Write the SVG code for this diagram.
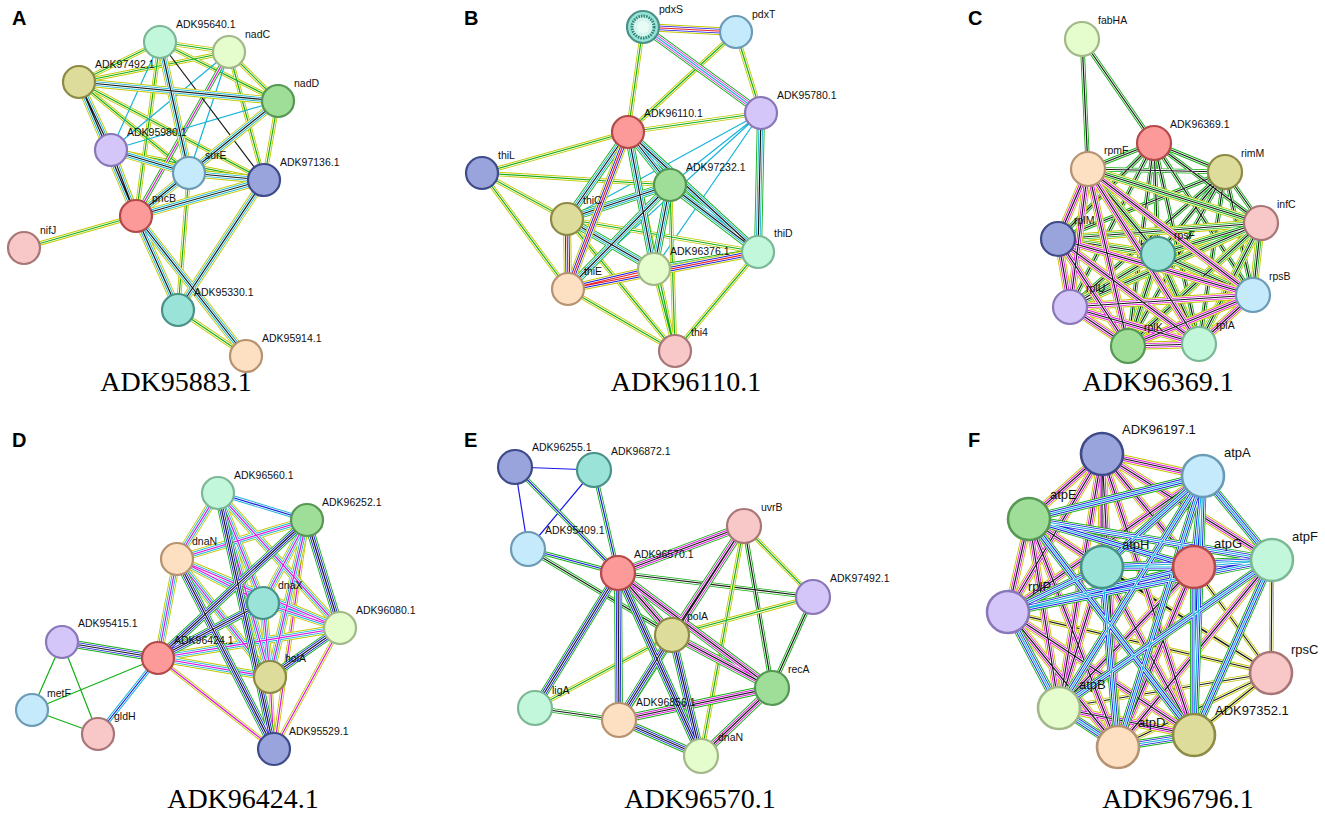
<svg xmlns="http://www.w3.org/2000/svg" xmlns:xlink="http://www.w3.org/1999/xlink" width="1325" height="821" viewBox="0 0 1325 821">
<style>
.t{font-family:"Liberation Sans",Arial,sans-serif;font-size:10.5px;fill:#111}
.tf{font-size:13px}
.ttl{font-family:"Liberation Serif","Times New Roman",serif;font-size:28px;text-anchor:middle;fill:#000}
.pl{font-family:"Liberation Sans",Arial,sans-serif;font-size:20px;font-weight:bold;fill:#000}
circle.n{stroke-width:2.2}
.big circle.n{stroke-width:2.6}
.red{fill:#fc9999;stroke:#b34a4a}
.mint{fill:#c3f7dc;stroke:#7bb896}
.yel{fill:#e5fccc;stroke:#a2b889}
.khk{fill:#dedc9b;stroke:#8c8a45}
.grn{fill:#9ede98;stroke:#569853}
.lav{fill:#d5c6f9;stroke:#8a77b8}
.lbl{fill:#c5eafc;stroke:#6b9bb5}
.slt{fill:#99a4dd;stroke:#3f4a88}
.pnk{fill:#f8c7c7;stroke:#a87676}
.tea{fill:#9ae3d8;stroke:#4a9288}
.pch{fill:#fddfc2;stroke:#b69270}
use{fill:none}
.y{stroke:#c3c800}.g{stroke:#15b015}.c{stroke:#18b4d8}.k{stroke:#1a1a1a}.m{stroke:#e012e0}.b{stroke:#1818e8}.r{stroke:#ee2020}.w{stroke:#fff}.p{stroke:#a8a8ff}
.L1{stroke-width:8}.L2{stroke-width:6.2}.L3{stroke-width:4.6}.L4{stroke-width:2.8}.L5{stroke-width:1.2}
</style>
<defs>
<path id="aH" d="M79 82L136 216M111 150L136 216M189 173L136 216M278 101L189 173M278 101L136 216M189 173L264 180M264 180L178 310M136 216L178 310M136 216L246 356M264 180L136 216M79 82L278 101M160 42L189 173M111 150L189 173M79 82L111 150"/>
<path id="aM" d="M79 82L160 42M79 82L229 52M160 42L229 52M160 42L278 101M229 52L278 101M278 101L264 180M111 150L264 180M79 82L189 173M79 82L264 180M160 42L136 216M111 150L178 310M178 310L246 356M136 216L24 248M189 173L178 310M229 52L264 180"/>
<path id="aM2" d="M229 52L136 216"/>
<path id="aL" d="M160 42L111 150M229 52L111 150M278 101L111 150M229 52L189 173"/>
<path id="aK" d="M160 42L264 180"/>
<path id="bH1" d="M628 132L670 185M628 132L567 219M628 132L654 269M628 132L758 252M567 219L670 185M670 185L654 269M670 185L758 252M654 269L758 252M761 113L758 252M567 219L654 269M670 185L568 289"/>
<path id="bH2" d="M643 27L736 32M567 219L568 289M568 289L654 269M628 132L568 289M568 289L758 252"/>
<path id="bH3" d="M643 27L761 113"/>
<path id="bM" d="M643 27L628 132M736 32L628 132M736 32L761 113M628 132L761 113M628 132L482 173M482 173L567 219M482 173L568 289M482 173L670 185M567 219L758 252M567 219L675 351M568 289L675 351M654 269L675 351M758 252L675 351M628 132L675 351M670 185L675 351"/>
<path id="bL" d="M761 113L670 185M761 113L567 219M761 113L654 269M761 113L568 289"/>
<path id="cH" d="M1088 169L1058 239M1088 169L1253 295M1088 169L1070 307M1088 169L1128 346M1088 169L1199 344M1058 239L1253 295M1058 239L1070 307M1058 239L1128 346M1058 239L1199 344M1253 295L1070 307M1253 295L1128 346M1253 295L1199 344M1070 307L1128 346M1070 307L1199 344M1128 346L1199 344"/>
<path id="cH2" d="M1088 169L1158 254M1088 169L1261 223M1058 239L1158 254M1058 239L1261 223M1158 254L1253 295M1158 254L1070 307M1158 254L1128 346M1158 254L1199 344M1158 254L1261 223M1253 295L1261 223M1070 307L1261 223M1128 346L1261 223M1199 344L1261 223"/>
<path id="cM" d="M1154 143L1088 169M1154 143L1225 172M1154 143L1261 223M1154 143L1058 239M1154 143L1158 254M1154 143L1253 295M1154 143L1070 307M1154 143L1128 346M1154 143L1199 344M1225 172L1088 169M1225 172L1261 223M1225 172L1058 239M1225 172L1158 254M1225 172L1253 295M1225 172L1070 307M1225 172L1128 346M1225 172L1199 344M1082 39L1088 169M1082 39L1154 143"/>
<path id="dH1" d="M218 493L177 559M218 493L263 603M218 493L270 677M307 520L177 559M307 520L263 603M307 520L270 677M177 559L263 603M177 559L340 628M177 559L270 677M177 559L158 658M263 603L340 628M263 603L270 677M340 628L158 658M270 677L158 658M218 493L340 628"/>
<path id="dH2" d="M158 658L62 642M307 520L158 658M218 493L274 749M177 559L274 749M340 628L270 677M307 520L340 628M263 603L158 658"/>
<path id="dM" d="M158 658L274 749M270 677L274 749M307 520L274 749M340 628L274 749"/>
<path id="dM2" d="M218 493L307 520M158 658L98 734"/>
<path id="dL" d="M158 658L32 710M62 642L32 710M62 642L98 734M32 710L98 734"/>
<path id="eL" d="M515 467L594 470M515 467L528 549M594 470L528 549"/>
<path id="eM" d="M515 467L618 573M594 470L618 573M528 549L618 573"/>
<path id="eM2" d="M528 549L672 635M618 573L813 597M744 526L772 688M813 597L772 688M535 708L619 720"/>
<path id="eM3" d="M813 597L672 635M744 526L813 597M672 635L535 708M744 526L701 756"/>
<path id="eH1" d="M618 573L744 526M618 573L672 635M618 573L772 688M672 635L772 688M772 688L619 720M772 688L701 756M744 526L672 635M744 526L619 720"/>
<path id="eH2" d="M618 573L535 708M618 573L619 720M618 573L701 756M672 635L619 720M672 635L701 756M619 720L701 756"/>
<path id="fH1" d="M1102 454L1203 476M1102 454L1029 519M1102 454L1272 560M1102 454L1102 567M1102 454L1194 567M1102 454L1008 612M1102 454L1059 708M1102 454L1194 735M1102 454L1118 747M1029 519L1102 567M1029 519L1008 612M1029 519L1059 708M1029 519L1118 747M1102 567L1059 708M1102 567L1194 735M1194 567L1059 708M1194 567L1118 747M1008 612L1118 747M1008 612L1194 735M1059 708L1194 735M1272 560L1118 747M1203 476L1008 612"/>
<path id="fH2" d="M1203 476L1029 519M1203 476L1272 560M1203 476L1102 567M1203 476L1194 567M1203 476L1059 708M1203 476L1194 735M1203 476L1118 747M1029 519L1272 560M1029 519L1194 567M1029 519L1194 735M1272 560L1102 567M1272 560L1194 567M1272 560L1008 612M1272 560L1059 708M1272 560L1194 735M1102 567L1194 567M1102 567L1008 612M1102 567L1118 747M1194 567L1008 612M1194 567L1194 735M1008 612L1059 708M1059 708L1118 747M1118 747L1194 735"/>
<path id="fM" d="M1271 673L1272 560M1271 673L1194 567M1271 673L1102 567M1271 673L1029 519M1271 673L1008 612M1271 673L1194 735M1271 673L1059 708M1271 673L1118 747"/>
</defs>
<rect width="1325" height="821" fill="#fff"/>
<g id="connectors">
<g id="conA">
<use href="#aM" class="y L3"/><use href="#aM" class="w L4"/><use href="#aM" class="g L5"/>
<use href="#aM2" class="g L3"/><use href="#aM2" class="w L4"/><use href="#aM2" class="m L5"/>
<use href="#aL" class="c L5"/><use href="#aK" class="k L5"/>
<use href="#aH" class="y L1"/><use href="#aH" class="w L2"/><use href="#aH" class="c L3"/><use href="#aH" class="w L4"/><use href="#aH" class="k L5"/>
</g>
<g id="conB">
<use href="#bL" class="c L5"/>
<use href="#bM" class="y L3"/><use href="#bM" class="w L4"/><use href="#bM" class="g L5"/>
<use href="#bH1" class="g L1"/><use href="#bH1" class="w L2"/><use href="#bH1" class="c L3"/><use href="#bH1" class="w L4"/><use href="#bH1" class="k L5"/>
<use href="#bH2" class="y L1"/><use href="#bH2" class="w L2"/><use href="#bH2" class="b L3"/><use href="#bH2" class="w L4"/><use href="#bH2" class="r L5"/>
<use href="#bH3" class="g L1"/><use href="#bH3" class="w L2"/><use href="#bH3" class="m L3"/><use href="#bH3" class="w L4"/><use href="#bH3" class="c L5"/>
</g>
<g id="conC">
<use href="#cM" class="g L3"/><use href="#cM" class="w L4"/><use href="#cM" class="k L5"/>
<use href="#cH2" class="y L1"/><use href="#cH2" class="w L2"/><use href="#cH2" class="g L3"/><use href="#cH2" class="w L4"/><use href="#cH2" class="k L5"/>
<use href="#cH" class="y L1"/><use href="#cH" class="w L2"/><use href="#cH" class="m L3"/><use href="#cH" class="w L4"/><use href="#cH" class="k L5"/>
</g>
<g id="conD">
<use href="#dL" class="g L5"/>
<use href="#dM2" class="c L3"/><use href="#dM2" class="w L4"/><use href="#dM2" class="b L5"/>
<use href="#dM" class="y L3"/><use href="#dM" class="w L4"/><use href="#dM" class="m L5"/>
<use href="#dH1" class="y L1"/><use href="#dH1" class="w L2"/><use href="#dH1" class="c L3"/><use href="#dH1" class="w L4"/><use href="#dH1" class="m L5"/>
<use href="#dH2" class="g L1"/><use href="#dH2" class="w L2"/><use href="#dH2" class="b L3"/><use href="#dH2" class="w L4"/><use href="#dH2" class="k L5"/>
</g>
<g id="conE">
<use href="#eL" class="b L5"/>
<use href="#eM" class="g L3"/><use href="#eM" class="w L4"/><use href="#eM" class="b L5"/>
<use href="#eM2" class="g L3"/><use href="#eM2" class="w L4"/><use href="#eM2" class="k L5"/>
<use href="#eM3" class="y L3"/><use href="#eM3" class="w L4"/><use href="#eM3" class="g L5"/>
<use href="#eH1" class="g L1"/><use href="#eH1" class="w L2"/><use href="#eH1" class="m L3"/><use href="#eH1" class="w L4"/><use href="#eH1" class="k L5"/>
<use href="#eH2" class="g L1"/><use href="#eH2" class="w L2"/><use href="#eH2" class="b L3"/><use href="#eH2" class="w L4"/><use href="#eH2" class="k L5"/>
</g>
<g id="conF">
<use href="#fM" class="y L3"/><use href="#fM" class="w L4"/><use href="#fM" class="k L5"/>
<use href="#fH1" class="y L1"/><use href="#fH1" class="w L2"/><use href="#fH1" class="m L3"/><use href="#fH1" class="w L4"/><use href="#fH1" class="k L5"/>
<use href="#fH2" class="g L1"/><use href="#fH2" class="w L2"/><use href="#fH2" class="b L3"/><use href="#fH2" class="w L4"/><use href="#fH2" class="c L5"/>
</g>
</g>

<g id="panelA">
<text class="pl" x="12" y="25">A</text>
<g id="a_ADK95640"><circle class="n mint" cx="160" cy="42" r="16"/><text class="t" x="176" y="28">ADK95640.1</text></g>
<g id="a_nadC"><circle class="n yel" cx="229" cy="52" r="16"/><text class="t" x="245" y="38">nadC</text></g>
<g id="a_ADK97492"><circle class="n khk" cx="79" cy="82" r="16"/><text class="t" x="95" y="68">ADK97492.1</text></g>
<g id="a_nadD"><circle class="n grn" cx="278" cy="101" r="16"/><text class="t" x="294" y="87">nadD</text></g>
<g id="a_ADK95980"><circle class="n lav" cx="111" cy="150" r="16"/><text class="t" x="127" y="136">ADK95980.1</text></g>
<g id="a_surE"><circle class="n lbl" cx="189" cy="173" r="16"/><text class="t" x="205" y="159">surE</text></g>
<g id="a_ADK97136"><circle class="n slt" cx="264" cy="180" r="16"/><text class="t" x="280" y="166">ADK97136.1</text></g>
<g id="a_pncB"><circle class="n red" cx="136" cy="216" r="16"/><text class="t" x="152" y="202">pncB</text></g>
<g id="a_nifJ"><circle class="n pnk" cx="24" cy="248" r="16"/><text class="t" x="40" y="234">nifJ</text></g>
<g id="a_ADK95330"><circle class="n tea" cx="178" cy="310" r="16"/><text class="t" x="194" y="296">ADK95330.1</text></g>
<g id="a_ADK95914"><circle class="n pch" cx="246" cy="356" r="16"/><text class="t" x="262" y="342">ADK95914.1</text></g>
<text class="ttl" x="176" y="391">ADK95883.1</text>
</g>

<g id="panelB">
<text class="pl" x="464" y="25">B</text>
<g id="b_pdxS"><circle class="n tea" cx="643" cy="27" r="16"/><circle cx="643" cy="27" r="11" fill="#d6f4ee" stroke="#2e8a7a" stroke-width="3" stroke-dasharray="1.6 1"/><circle cx="643" cy="27" r="6" fill="#e9fbf7"/><text class="t" x="659" y="13">pdxS</text></g>
<g id="b_pdxT"><circle class="n lbl" cx="736" cy="32" r="16"/><text class="t" x="752" y="18">pdxT</text></g>
<g id="b_ADK95780"><circle class="n lav" cx="761" cy="113" r="16"/><text class="t" x="777" y="99">ADK95780.1</text></g>
<g id="b_ADK96110"><circle class="n red" cx="628" cy="132" r="16"/><text class="t" x="644" y="117">ADK96110.1</text></g>
<g id="b_thiL"><circle class="n slt" cx="482" cy="173" r="16"/><text class="t" x="498" y="159">thiL</text></g>
<g id="b_ADK97232"><circle class="n grn" cx="670" cy="185" r="16"/><text class="t" x="686" y="171">ADK97232.1</text></g>
<g id="b_thiC"><circle class="n khk" cx="567" cy="219" r="16"/><text class="t" x="583" y="204">thiC</text></g>
<g id="b_thiD"><circle class="n mint" cx="758" cy="252" r="16"/><text class="t" x="774" y="237">thiD</text></g>
<g id="b_ADK96376"><circle class="n yel" cx="654" cy="269" r="16"/><text class="t" x="670" y="255">ADK96376.1</text></g>
<g id="b_thiE"><circle class="n pch" cx="568" cy="289" r="16"/><text class="t" x="584" y="275">thiE</text></g>
<g id="b_thi4"><circle class="n pnk" cx="675" cy="351" r="16"/><text class="t" x="691" y="336">thi4</text></g>
<text class="ttl" x="686" y="391">ADK96110.1</text>
</g>

<g id="panelC">
<text class="pl" x="968" y="25">C</text>
<g id="c_fabHA"><circle class="n yel" cx="1082" cy="39" r="17"/><text class="t" x="1098" y="24">fabHA</text></g>
<g id="c_ADK96369"><circle class="n red" cx="1154" cy="143" r="17"/><text class="t" x="1170" y="128">ADK96369.1</text></g>
<g id="c_rpmF"><circle class="n pch" cx="1088" cy="169" r="17"/><text class="t" x="1104" y="154">rpmF</text></g>
<g id="c_rimM"><circle class="n khk" cx="1225" cy="172" r="17"/><text class="t" x="1241" y="157">rimM</text></g>
<g id="c_infC"><circle class="n pnk" cx="1261" cy="223" r="17"/><text class="t" x="1277" y="208">infC</text></g>
<g id="c_rplM"><circle class="n slt" cx="1058" cy="239" r="17"/><text class="t" x="1074" y="224">rplM</text></g>
<g id="c_rpsF"><circle class="n tea" cx="1158" cy="254" r="17"/><text class="t" x="1174" y="239">rpsF</text></g>
<g id="c_rpsB"><circle class="n lbl" cx="1253" cy="295" r="17"/><text class="t" x="1269" y="280">rpsB</text></g>
<g id="c_rplU"><circle class="n lav" cx="1070" cy="307" r="17"/><text class="t" x="1086" y="292">rplU</text></g>
<g id="c_rplK"><circle class="n grn" cx="1128" cy="346" r="17"/><text class="t" x="1144" y="331">rplK</text></g>
<g id="c_rplA"><circle class="n mint" cx="1199" cy="344" r="17"/><text class="t" x="1216" y="329">rplA</text></g>
<text class="ttl" x="1158" y="391">ADK96369.1</text>
</g>

<g id="panelD">
<text class="pl" x="12" y="447">D</text>
<g id="d_ADK96560"><circle class="n mint" cx="218" cy="493" r="16"/><text class="t" x="234" y="479">ADK96560.1</text></g>
<g id="d_ADK96252"><circle class="n grn" cx="307" cy="520" r="16"/><text class="t" x="322" y="506">ADK96252.1</text></g>
<g id="d_dnaN"><circle class="n pch" cx="177" cy="559" r="16"/><text class="t" x="192" y="545">dnaN</text></g>
<g id="d_dnaX"><circle class="n tea" cx="263" cy="603" r="16"/><text class="t" x="278" y="589">dnaX</text></g>
<g id="d_ADK96080"><circle class="n yel" cx="340" cy="628" r="16"/><text class="t" x="356" y="614">ADK96080.1</text></g>
<g id="d_ADK95415"><circle class="n lav" cx="62" cy="642" r="16"/><text class="t" x="78" y="627">ADK95415.1</text></g>
<g id="d_ADK96424"><circle class="n red" cx="158" cy="658" r="16"/><text class="t" x="174" y="644">ADK96424.1</text></g>
<g id="d_holA"><circle class="n khk" cx="270" cy="677" r="16"/><text class="t" x="285" y="662">holA</text></g>
<g id="d_metF"><circle class="n lbl" cx="32" cy="710" r="16"/><text class="t" x="47" y="697">metF</text></g>
<g id="d_gldH"><circle class="n pnk" cx="98" cy="734" r="16"/><text class="t" x="114" y="720">gldH</text></g>
<g id="d_ADK95529"><circle class="n slt" cx="274" cy="749" r="16"/><text class="t" x="289" y="735">ADK95529.1</text></g>
<text class="ttl" x="243" y="808">ADK96424.1</text>
</g>

<g id="panelE">
<text class="pl" x="464" y="447">E</text>
<g id="e_ADK96255"><circle class="n slt" cx="515" cy="467" r="17"/><text class="t" x="532" y="451">ADK96255.1</text></g>
<g id="e_ADK96872"><circle class="n tea" cx="594" cy="470" r="17"/><text class="t" x="611" y="455">ADK96872.1</text></g>
<g id="e_uvrB"><circle class="n pnk" cx="744" cy="526" r="17"/><text class="t" x="761" y="511">uvrB</text></g>
<g id="e_ADK95409"><circle class="n lbl" cx="528" cy="549" r="17"/><text class="t" x="545" y="534">ADK95409.1</text></g>
<g id="e_ADK96570"><circle class="n red" cx="618" cy="573" r="17"/><text class="t" x="634" y="558">ADK96570.1</text></g>
<g id="e_ADK97492"><circle class="n lav" cx="813" cy="597" r="17"/><text class="t" x="830" y="582">ADK97492.1</text></g>
<g id="e_polA"><circle class="n khk" cx="672" cy="635" r="17"/><text class="t" x="687" y="620">polA</text></g>
<g id="e_recA"><circle class="n grn" cx="772" cy="688" r="17"/><text class="t" x="788" y="673">recA</text></g>
<g id="e_ligA"><circle class="n mint" cx="535" cy="708" r="17"/><text class="t" x="552" y="694">ligA</text></g>
<g id="e_ADK96856"><circle class="n pch" cx="619" cy="720" r="17"/><text class="t" x="636" y="706">ADK96856.1</text></g>
<g id="e_dnaN"><circle class="n yel" cx="701" cy="756" r="17"/><text class="t" x="718" y="741">dnaN</text></g>
<text class="ttl" x="700" y="808">ADK96570.1</text>
</g>

<g id="panelF" class="big">
<text class="pl" x="968" y="447">F</text>
<g id="f_ADK96197"><circle class="n slt" cx="1102" cy="454" r="21"/><text class="t tf" x="1122" y="434">ADK96197.1</text></g>
<g id="f_atpA"><circle class="n lbl" cx="1203" cy="476" r="21"/><text class="t tf" x="1224" y="457">atpA</text></g>
<g id="f_atpE"><circle class="n grn" cx="1029" cy="519" r="21"/><text class="t tf" x="1050" y="499">atpE</text></g>
<g id="f_atpF"><circle class="n mint" cx="1272" cy="560" r="21"/><text class="t tf" x="1292" y="541">atpF</text></g>
<g id="f_atpH"><circle class="n tea" cx="1102" cy="567" r="21"/><text class="t tf" x="1122" y="549">atpH</text></g>
<g id="f_atpG"><circle class="n red" cx="1194" cy="567" r="21"/><text class="t tf" x="1214" y="548">atpG</text></g>
<g id="f_rplP"><circle class="n lav" cx="1008" cy="612" r="21"/><text class="t tf" x="1028" y="591">rplP</text></g>
<g id="f_rpsC"><circle class="n pnk" cx="1271" cy="673" r="21"/><text class="t tf" x="1291" y="654">rpsC</text></g>
<g id="f_atpB"><circle class="n yel" cx="1059" cy="708" r="21"/><text class="t tf" x="1079" y="689">atpB</text></g>
<g id="f_ADK97352"><circle class="n khk" cx="1194" cy="735" r="21"/><text class="t tf" x="1215" y="715">ADK97352.1</text></g>
<g id="f_atpD"><circle class="n pch" cx="1118" cy="747" r="21"/><text class="t tf" x="1138" y="727">atpD</text></g>
<text class="ttl" x="1178" y="808">ADK96796.1</text>
</g>
</svg>
